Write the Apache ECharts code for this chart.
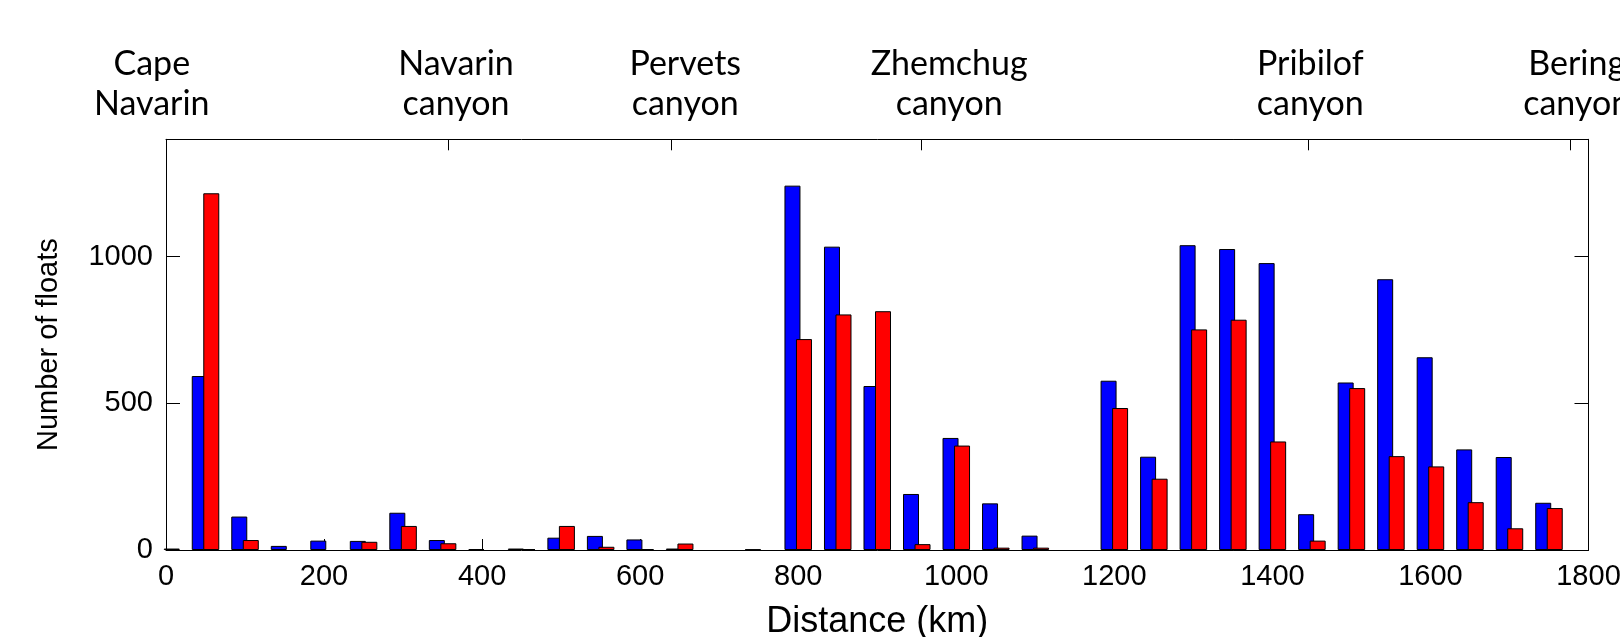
<!DOCTYPE html>
<html>
<head>
<meta charset="utf-8">
<script src="https://cdn.jsdelivr.net/npm/echarts@6/dist/echarts.min.js"></script>
<style>
html,body{margin:0;padding:0;background:#fff;}
#chart{width:1620px;height:637px;}
</style>
</head>
<body>
<div id="chart"></div>
<script>
// Distance bins (km)
const bins = [0,50,100,150,200,250,300,350,400,450,500,550,600,650,700,750,800,850,900,950,1000,1050,1100,1150,1200,1250,1300,1350,1400,1450,1500,1550,1600,1650,1700,1750];
// Blue series (number of floats)
const blueValues = [0,593,114,14,32,31,127,34,3,5,42,48,36,5,0,2,1242,1034,559,191,382,159,49,0,577,318,1039,1026,978,122,571,923,657,343,317,161];
// Red series (number of floats)
const redValues = [5,1216,34,0,0,28,82,23,0,3,82,11,3,22,0,0,719,803,814,20,356,8,8,0,484,243,752,785,370,32,552,320,285,163,74,143];
// Tick labels
const xTicks = [0,200,400,600,800,1000,1200,1400,1600,1800];
const yTicks = [0,500,1000];
// Canyon annotations along the top axis
const canyonNames = ['Cape\nNavarin','Navarin\ncanyon','Pervets\ncanyon','Zhemchug\ncanyon','Pribilof\ncanyon','Bering\ncanyon'];
const canyonTickKm = [357,639,956,1446,1777];
const canyonLabelKm = [-18,367,657,991,1448,1785];

const chart = echarts.init(document.getElementById('chart'), null, {renderer:'canvas'});
const axisFont = 'Liberation Sans, Arial, Helvetica, sans-serif';

function toBarData(values){
  return bins.map(function(b,i){ return [b, values[i] === 0 ? '-' : values[i]]; });
}

const option = {
  animation:false,
  backgroundColor:'#fff',
  grid:{left:166,right:31.5,top:139.3,bottom:87,containLabel:false,outerBoundsMode:'none'},
  xAxis:[{
    type:'value',position:'bottom',min:0,max:1800,interval:200,
    axisLine:{show:true,onZero:false,lineStyle:{color:'#000',width:1}},
    axisTick:{show:true,inside:true,length:11,lineStyle:{color:'#000'}},
    axisLabel:{show:true,margin:12,color:'#000',fontFamily:axisFont,fontSize:29,
      formatter:function(v){return xTicks.indexOf(v)>=0?String(v):'';}},
    splitLine:{show:false},
    name:'Distance (km)',nameLocation:'middle',nameGap:54,
    nameTextStyle:{color:'#000',fontFamily:axisFont,fontSize:36}
  },{
    type:'value',position:'top',min:0,max:1800,
    axisLine:{show:true,onZero:false,lineStyle:{color:'#000',width:1}},
    axisTick:{show:true,inside:true,length:11,customValues:canyonTickKm,lineStyle:{color:'#000'}},
    axisLabel:{show:false},
    splitLine:{show:false}
  }],
  yAxis:[{
    type:'value',position:'left',min:0,max:1400,interval:500,
    axisLine:{show:true,onZero:false,lineStyle:{color:'#000',width:1}},
    axisTick:{show:true,inside:true,length:14,lineStyle:{color:'#000'}},
    axisLabel:{show:true,margin:13,color:'#000',fontFamily:axisFont,fontSize:29,showMaxLabel:false,
      formatter:function(v){return yTicks.indexOf(v)>=0?String(v):'';}},
    splitLine:{show:false},
    name:'Number of floats',nameLocation:'middle',nameGap:103,
    nameTextStyle:{color:'#000',fontFamily:axisFont,fontSize:29}
  },{
    type:'value',position:'right',min:0,max:1400,interval:500,
    axisLine:{show:true,onZero:false,lineStyle:{color:'#000',width:1}},
    axisTick:{show:true,inside:true,length:14,lineStyle:{color:'#000'}},
    axisLabel:{show:false},
    splitLine:{show:false}
  }],
  series:[{
    type:'bar',name:'blue',xAxisIndex:0,yAxisIndex:0,
    data:toBarData(blueValues),
    barWidth:16,barGap:'-28%',
    itemStyle:{color:'#0000ff',borderColor:'#000',borderWidth:1},
    clip:true
  },{
    type:'bar',name:'red',xAxisIndex:0,yAxisIndex:0,
    data:toBarData(redValues),
    barWidth:16,barGap:'-28%',
    itemStyle:{color:'#ff0000',borderColor:'#000',borderWidth:1},
    clip:true
  }]
};
chart.setOption(option);

const texts = canyonNames.map(function(name,i){
  const px = chart.convertToPixel({xAxisIndex:1}, canyonLabelKm[i]);
  return {
    type:'text',x:px,y:84,silent:true,
    style:{text:name,fill:'#000',font:'34px Lato, "Open Sans", sans-serif',
      align:'center',verticalAlign:'middle',lineHeight:40}
  };
});
chart.setOption({graphic:{elements:texts}});
</script>
</body>
</html>
